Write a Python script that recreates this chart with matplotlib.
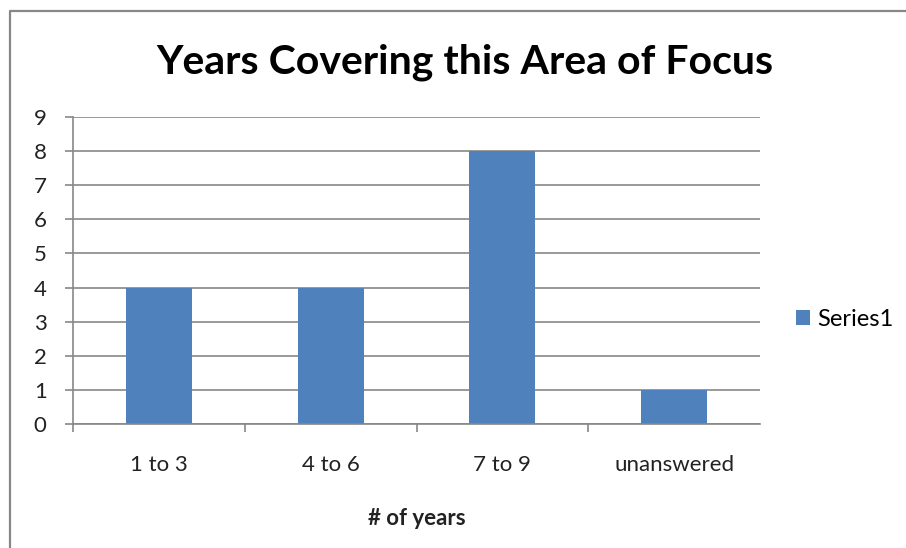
import matplotlib.pyplot as plt
from matplotlib.lines import Line2D

categories = ['1 to 3', '4 to 6', '7 to 9', 'unanswered']
values = [4, 4, 8, 1]
series_name = 'Series1'

plt.rcParams['font.family'] = ['Lato', 'DejaVu Sans']
BAR_COLOR = '#4F81BD'
LINE_COLOR = '#878787'
TEXT_COLOR = '#222222'

fig = plt.figure(figsize=(9.06, 5.48), dpi=100)
ax = fig.add_axes([0.0806, 0.2263, 0.7583, 0.5602])

x = range(len(categories))
ax.bar(x, values, width=0.385, color=BAR_COLOR, label=series_name, zorder=3)

ax.set_xlim(-0.5, len(categories) - 0.5)
ax.set_ylim(0, 9)
ax.set_yticks(range(0, 10))
ax.yaxis.grid(True, color=LINE_COLOR, linewidth=1.2, zorder=0)

# category ticks sit between the bars, labels at bar centres
ax.set_xticks([i - 0.5 for i in range(len(categories))])
ax.set_xticklabels([])
ax.set_xticks(list(x), minor=True)
ax.set_xticklabels(categories, minor=True)
ax.tick_params(axis='x', which='major', length=6, color=LINE_COLOR, width=1.2)
ax.tick_params(axis='x', which='minor', length=0, pad=22, labelsize=16, labelcolor=TEXT_COLOR)
ax.tick_params(axis='y', length=6, color=LINE_COLOR, width=1.2, pad=13, labelsize=16,
               labelcolor=TEXT_COLOR)

for side in ['top', 'right']:
    ax.spines[side].set_visible(False)
for side in ['left', 'bottom']:
    ax.spines[side].set_color(LINE_COLOR)
    ax.spines[side].set_linewidth(1.2)
    ax.spines[side].set_zorder(4)

ax.set_xlabel('# of years', fontsize=16, fontweight='bold', labelpad=24, color=TEXT_COLOR)

fig.text(0.5135, 0.887, 'Years Covering this Area of Focus', fontsize=29.5,
         fontweight='bold', ha='center', va='center')

ax.legend(loc='center left', bbox_to_anchor=(1.021, 0.34), frameon=False,
          fontsize=17, handlelength=0.6, handleheight=0.6, handletextpad=0.3)

# chart frame: only the left and top edges fall inside the image
left, top = 10 / 906, 1 - 11 / 548
fig.lines.append(Line2D([left, left, 1.01], [-0.01, top, top], transform=fig.transFigure,
                        color=LINE_COLOR, linewidth=1.6))

fig.savefig('out.png', dpi=100)
